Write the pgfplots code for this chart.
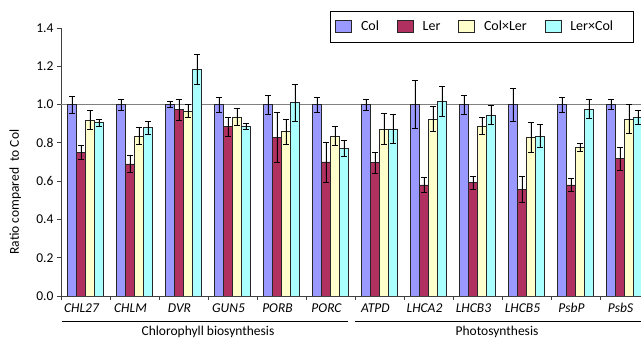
\documentclass[border=0pt]{standalone}
\usepackage{fontspec}
\setmainfont{Carlito}
\usepackage{pgfplots}
\usepackage{pgfplotstable}
\pgfplotsset{compat=1.18}
\definecolor{cCol}{HTML}{9999FF}
\definecolor{cLer}{HTML}{B03060}
\definecolor{cCxL}{HTML}{FFFFCC}
\definecolor{cLxC}{HTML}{AAFFFF}
\definecolor{axgray}{HTML}{404040}

\pgfplotstableread{
x col ecol ler eler cxl ecxl lxc elxc
0 1.00 0.045 0.750 0.035 0.920 0.050 0.905 0.020
1 1.00 0.030 0.690 0.045 0.835 0.045 0.880 0.035
2 1.00 0.015 0.975 0.055 0.967 0.035 1.185 0.080
3 1.00 0.040 0.884 0.050 0.936 0.045 0.888 0.015
4 1.00 0.050 0.829 0.130 0.858 0.065 1.010 0.095
5 1.00 0.040 0.700 0.105 0.835 0.050 0.771 0.040
6 1.00 0.030 0.696 0.055 0.872 0.080 0.872 0.075
7 1.00 0.125 0.580 0.040 0.924 0.065 1.018 0.080
8 1.00 0.050 0.592 0.035 0.888 0.045 0.945 0.050
9 1.00 0.085 0.557 0.070 0.829 0.080 0.835 0.060
10 1.00 0.040 0.580 0.035 0.778 0.020 0.976 0.050
11 1.00 0.025 0.719 0.060 0.924 0.075 0.933 0.035
}\data

\begin{document}
\begin{tikzpicture}[font=\fontsize{13.5}{16}\selectfont]
\begin{axis}[
  at={(61pt,43pt)}, anchor=south west,
  scale only axis, width=580pt, height=268pt,
  xmin=-0.5, xmax=11.337, ymin=0, ymax=1.4,
  axis lines*=left,
  axis line style={axgray, line width=0.8pt},
  ybar=0pt, bar width=9pt,
  tick align=outside,
  major tick length=4pt, minor tick length=4pt,
  tick style={axgray, line width=0.8pt},
  ytick={0,0.2,0.4,0.6,0.8,1.0,1.2,1.4},
  yticklabel style={/pgf/number format/.cd, fixed, fixed zerofill, precision=1, assume math mode=true},
  xtick={0,1,2,3,4,5,6,7,8,9,10,11},
  xticklabels={CHL27,CHLM,DVR,GUN5,PORB,PORC,ATPD,LHCA2,LHCB3,LHCB5,PsbP,PsbS},
  xticklabel style={font=\fontsize{13.5}{16}\selectfont\itshape, xshift=-4pt},
  major x tick style={draw=none},
  minor xtick={-0.5,0.5,1.5,2.5,3.5,4.5,5.5,6.5,7.5,8.5,9.5,10.5},
  ylabel={Ratio compared\ \ to Col},
  ylabel style={at={(axis description cs:-0.079,0.388)}, anchor=center},
  legend columns=4,
  legend cell align=left,
  legend image code/.code={\draw[#1, line width=0.6pt] (0pt,-6pt) rectangle (16pt,6pt); \path (21pt,0pt);},
  legend style={at={(axis description cs:0.4638,1.0646)}, anchor=north west,
    draw=black, line width=0.8pt, inner xsep=5pt, inner ysep=8pt,
    font=\fontsize{14}{16}\selectfont,
    /tikz/every even column/.append style={column sep=14pt},
    nodes={inner xsep=4pt}},
]
\draw[line width=1.4pt, color=gray] (axis cs:-0.5,1) -- (axis cs:11.337,1);
\addplot[fill=cCol, draw=black!85, line width=0.6pt,
  error bars/.cd, y dir=both, y explicit,
  error bar style={black, line width=0.6pt},
  error mark options={rotate=90, mark size=3pt, black, line width=0.6pt}]
  table[x=x, y=col, y error=ecol]{\data};
\addplot[fill=cLer, draw=black!85, line width=0.6pt,
  error bars/.cd, y dir=both, y explicit,
  error bar style={black, line width=0.6pt},
  error mark options={rotate=90, mark size=3pt, black, line width=0.6pt}]
  table[x=x, y=ler, y error=eler]{\data};
\addplot[fill=cCxL, draw=black!85, line width=0.6pt,
  error bars/.cd, y dir=both, y explicit,
  error bar style={black, line width=0.6pt},
  error mark options={rotate=90, mark size=3pt, black, line width=0.6pt}]
  table[x=x, y=cxl, y error=ecxl]{\data};
\addplot[fill=cLxC, draw=black!85, line width=0.6pt,
  error bars/.cd, y dir=both, y explicit,
  error bar style={black, line width=0.6pt},
  error mark options={rotate=90, mark size=3pt, black, line width=0.6pt}]
  table[x=x, y=lxc, y error=elxc]{\data};
\legend{Col, Ler, Col×Ler, Ler×Col\hspace*{11pt}}
\end{axis}
\draw[line width=0.9pt] (61.7pt,18pt) -- (348pt,18pt);
\draw[line width=0.9pt] (355pt,18pt) -- (641pt,18pt);
\node[anchor=base] at (208pt,3pt) {Chlorophyll biosynthesis};
\node[anchor=base] at (497pt,3pt) {Photosynthesis};
\pgfresetboundingbox
\path (0,0) rectangle (641pt,339pt);
\end{tikzpicture}
\end{document}
